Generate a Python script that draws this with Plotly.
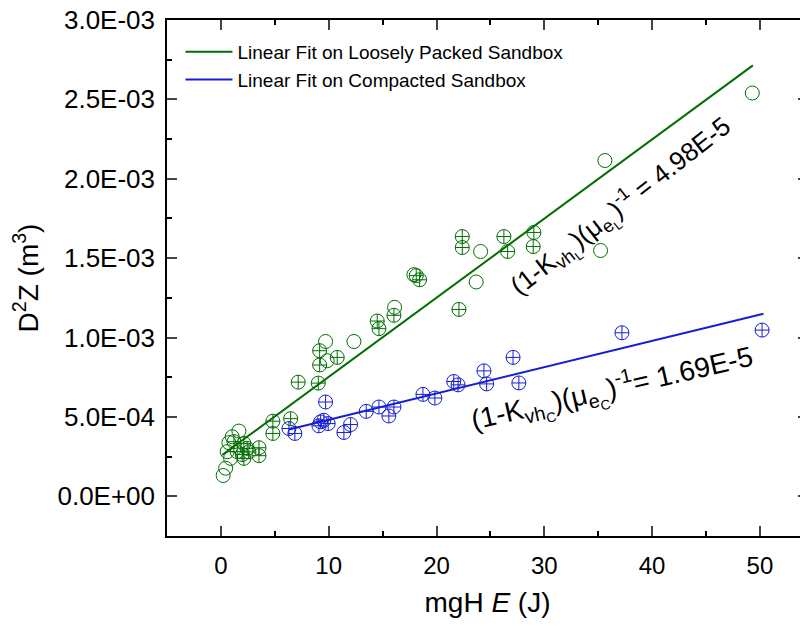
import plotly.graph_objects as go

# loosely packed sandbox (green)
loose_open_x = [0.21, 0.44, 0.9, 0.58, 0.74, 1.05, 1.67, 9.71, 12.34, 9.86, 16.11, 17.9, 23.68, 24.09, 35.22, 35.62, 49.29]
loose_open_y = [1.31e-4, 1.77e-4, 2.39e-4, 2.81e-4, 3.38e-4, 3.75e-4, 4.11e-4, 9.75e-4, 9.75e-4, 8.54e-4,
                1.19e-3, 1.396e-3, 1.35e-3, 1.542e-3, 1.548e-3, 2.115e-3, 2.54e-3]
loose_cross_x = [1.21, 2.13, 2.44, 1.98, 1.51, 3.53, 3.53, 2.13, 2.6, 4.82, 4.82, 6.47, 7.17, 9.03, 9.16,
                 9.16, 10.79, 14.5, 14.66, 16.05, 18.12, 18.43, 22.08, 22.39, 22.39, 26.25, 26.6, 29.03, 28.97]
loose_cross_y = [3.44e-4, 3.33e-4, 3.02e-4, 2.63e-4, 2.81e-4, 3.06e-4, 2.56e-4, 2.39e-4, 2.8e-4, 4.73e-4,
                 3.96e-4, 4.89e-4, 7.19e-4, 7.13e-4, 9.17e-4, 8.27e-4, 8.75e-4, 1.104e-3, 1.056e-3, 1.14e-3,
                 1.39e-3, 1.364e-3, 1.177e-3, 1.636e-3, 1.567e-3, 1.636e-3, 1.542e-3, 1.662e-3, 1.573e-3]

# compacted sandbox (blue)
compact_x = [6.31, 6.86, 9.09, 9.25, 9.55, 9.95, 9.71, 11.41, 12.03, 13.48, 14.66, 15.58, 16.05, 18.74,
             19.85, 21.6, 22.0, 24.4, 24.65, 27.1, 27.64, 37.2, 50.2]
compact_y = [4.27e-4, 3.96e-4, 4.44e-4, 4.69e-4, 4.79e-4, 4.58e-4, 5.94e-4, 4.02e-4, 4.52e-4, 5.35e-4,
             5.625e-4, 5.06e-4, 5.625e-4, 6.42e-4, 6.19e-4, 7.23e-4, 7.02e-4, 7.9e-4, 7.08e-4, 8.75e-4,
             7.14e-4, 1.03e-3, 1.047e-3]

# fit line end points
fit_loose_x = [0.12, 49.35]
fit_loose_y = [2.6e-4, 2.714e-3]
fit_compact_x = [6.31, 50.33]
fit_compact_y = [4.21e-4, 1.15e-3]

y_tickvals = [0, 5e-4, 1e-3, 1.5e-3, 2e-3, 2.5e-3, 3e-3]
y_ticktext = ['0.0E+00', '5.0E-04', '1.0E-03', '1.5E-03', '2.0E-03', '2.5E-03', '3.0E-03']

GREEN = 'rgb(0,110,0)'
BLUE = 'rgb(20,30,210)'
FONT = 'Arial, Liberation Sans, sans-serif'

fig = go.Figure()

fig.add_trace(go.Scatter(x=loose_open_x, y=loose_open_y, mode='markers', showlegend=False,
                         marker=dict(symbol='circle-open', size=14, color=GREEN, line=dict(width=1))))
fig.add_trace(go.Scatter(x=loose_cross_x, y=loose_cross_y, mode='markers', showlegend=False,
                         marker=dict(symbol='circle-cross-open', size=14, color=GREEN, line=dict(width=1))))
fig.add_trace(go.Scatter(x=compact_x, y=compact_y, mode='markers', showlegend=False,
                         marker=dict(symbol='circle-cross-open', size=14, color=BLUE, line=dict(width=1))))

fig.add_trace(go.Scatter(x=fit_loose_x, y=fit_loose_y, mode='lines', name='Linear Fit on Loosely Packed Sandbox',
                         line=dict(color=GREEN, width=2)))
fig.add_trace(go.Scatter(x=fit_compact_x, y=fit_compact_y, mode='lines', name='Linear Fit on Compacted Sandbox',
                         line=dict(color=BLUE, width=2)))

# fitted coefficients written along the lines
fig.add_annotation(x=37.2, y=1.825e-3, showarrow=False, textangle=-38,
                   text='(1-K<sub>vh<sub>L</sub></sub>)(\u03bc<sub>e<sub>L</sub></sub>)<sup>-1</sup> = 4.98E-5',
                   font=dict(size=26, color='black', family=FONT))
fig.add_annotation(x=36.27, y=0.675e-3, showarrow=False, textangle=-13,
                   text='(1-K<sub>vh<sub>C</sub></sub>)(\u03bc<sub>e<sub>C</sub></sub>)<sup>-1</sup>= 1.69E-5',
                   font=dict(size=28, color='black', family=FONT))

# the page adds an 8px body margin, so the figure is 8px smaller than the window
fig.update_layout(
    width=800, height=618,
    margin=dict(l=159, r=0, t=12, b=90),
    plot_bgcolor='white', paper_bgcolor='white',
    font=dict(family=FONT, color='black'),
    legend=dict(x=0.021, y=0.975, xanchor='left', yanchor='top', bgcolor='rgba(0,0,0,0)',
                font=dict(size=19), itemwidth=47),
)

fig.update_xaxes(range=[-5, 54.46], tick0=0, dtick=10, ticks='inside', ticklen=10, tickwidth=1.5,
                 showline=True, linecolor='black', linewidth=1.5, mirror='allticks', showgrid=False,
                 zeroline=False, tickfont=dict(size=24), ticklabelstandoff=7, automargin=False,
                 minor=dict(dtick=5, ticks='inside', ticklen=5, tickwidth=1.5, tickcolor='black'),
                 title=dict(text='mgH <i>E</i> (J)', font=dict(size=28), standoff=15))
fig.update_yaxes(range=[-2.5e-4, 3.0e-3], tickvals=y_tickvals, ticktext=y_ticktext, ticks='inside',
                 ticklen=10, tickwidth=1.5, showline=True, linecolor='black', linewidth=1.5,
                 mirror='allticks', showgrid=False, zeroline=False, tickfont=dict(size=26),
                 ticklabelstandoff=5, automargin=False, ticklabeloverflow='allow',
                 minor=dict(dtick=2.5e-4, tick0=0, ticks='inside', ticklen=5, tickwidth=1.5, tickcolor='black'),
                 title=dict(text='D<sup>2</sup>Z (m<sup>3</sup>)', font=dict(size=28), standoff=16))

fig.write_html("out.html")
